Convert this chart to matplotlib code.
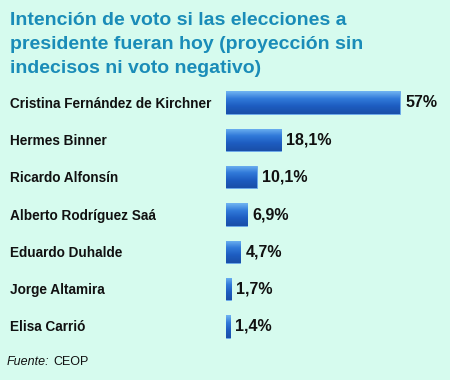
import numpy as np
import matplotlib.pyplot as plt
from matplotlib.colors import LinearSegmentedColormap

# candidates and vote share (%)
candidatos = ["Cristina Fernández de Kirchner", "Hermes Binner", "Ricardo Alfonsín",
              "Alberto Rodríguez Saá", "Eduardo Duhalde", "Jorge Altamira", "Elisa Carrió"]
votos = [57, 18.1, 10.1, 6.9, 4.7, 1.7, 1.4]
etiquetas = ["57%", "18,1%", "10,1%", "6,9%", "4,7%", "1,7%", "1,4%"]

bg = "#d6fbee"
plt.rcParams['font.family'] = ['Liberation Sans', 'DejaVu Sans']

fig = plt.figure(figsize=(4.5, 3.8), dpi=100, facecolor=bg)
ax = fig.add_axes([226/450, 1-345/380, 224/450, 261/380])
ax.set_facecolor(bg)

pos = np.arange(len(votos))
bars = ax.barh(pos, votos, height=0.6, color="#2a6ccf", edgecolor="#6aa8ea", linewidth=0.6)

# vertical gradient inside each bar
cmap = LinearSegmentedColormap.from_list("g", ["#70b4f2", "#3079d9", "#1d5cc0", "#1a4fa8"])
grad = np.linspace(0, 1, 50).reshape(-1, 1)
for b in bars:
    x0, y0 = b.get_x(), b.get_y()
    im = ax.imshow(grad, cmap=cmap, aspect="auto", extent=(x0, x0 + b.get_width(), y0 + b.get_height(), y0),
                   zorder=2, interpolation="bicubic")
    im.set_clip_path(b)

for p, v, lab in zip(pos, votos, etiquetas):
    ax.text(v + 1.7, p, lab, va="center", ha="left", fontsize=11.5, fontweight="bold", color="#111111")

ax.set_xlim(0, 73.4)
ax.set_ylim(6.5, -0.5)
ax.axis("off")

for p, name in zip(pos, candidatos):
    fig.text(10/450, 1 - (85 + (p + 0.5) * 261 / 7) / 380, name,
             va="center", ha="left", fontsize=9.8, fontweight="bold", color="#111111")

fig.text(10/450, 1 - 12/380, "Intención de voto si las elecciones a\npresidente fueran hoy (proyección sin\nindecisos ni voto negativo)",
         va="top", ha="left", fontsize=14, fontweight="bold", color="#1a8cb8", linespacing=1.52)

fig.text(7/450, 1 - 362/380, "Fuente:", style="italic", fontsize=9, va="center", ha="left", color="#111111")
fig.text(53/450, 1 - 362/380, "CEOP", fontsize=9, va="center", ha="left", color="#111111")

fig.savefig("out.png", dpi=100, facecolor=bg)
